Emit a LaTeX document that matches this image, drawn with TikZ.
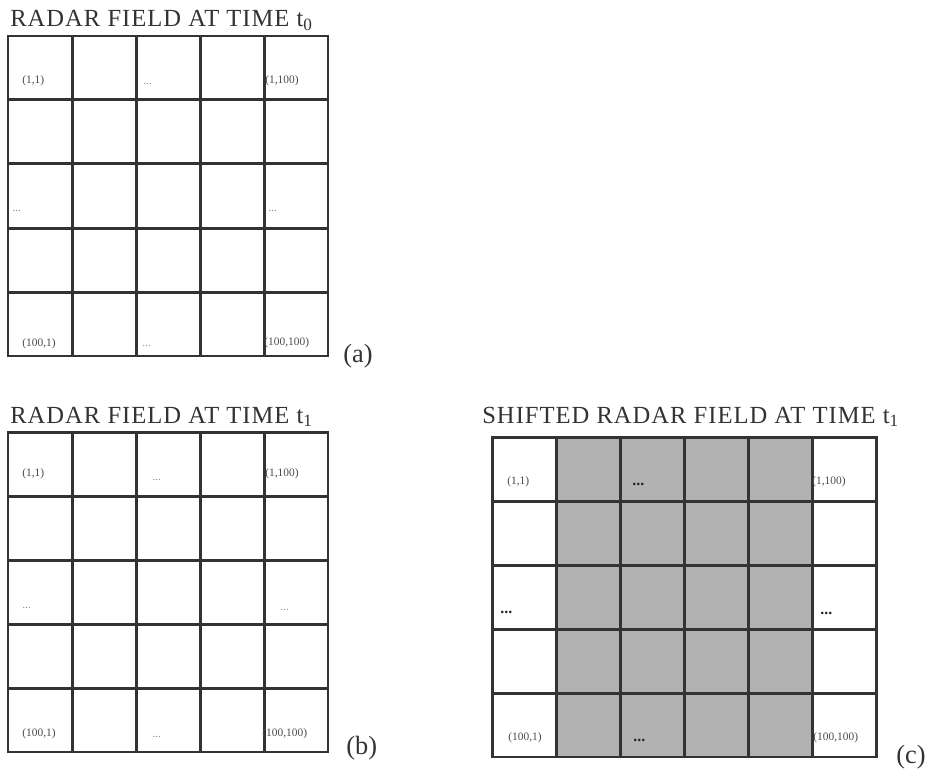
\documentclass[tikz,border=0pt]{standalone}
\usepackage{fontspec}
\setmainfont{Liberation Serif}
\newfontfamily\ttlfont[LetterSpace=4]{Liberation Serif}
\usetikzlibrary{positioning}
\definecolor{ink}{HTML}{333333}
\definecolor{cellgray}{HTML}{B2B2B2}

\begin{document}
\begin{tikzpicture}[x=0.02cm, y=-0.02cm,
  cell/.style={draw=ink, rectangle, line width=1.7pt, minimum size=1.28cm,
    inner sep=0pt, fill=white},
  shd/.style={cell, fill=cellgray},
  ttl/.style={font=\ttlfont\fontsize{14}{16}\selectfont, text=ink,
    anchor=base west, inner sep=0pt},
  idx/.style={font=\fontsize{6.5}{7}\selectfont, text=black!70,
    anchor=base west, inner sep=0pt},
  dts/.style={idx, text=black!45},
  bdts/.style={idx, text=black!85, font=\bfseries\fontsize{9}{10}\selectfont},
  tag/.style={font=\fontsize{15}{17}\selectfont, text=ink, anchor=base west,
    inner sep=0pt},
]
\useasboundingbox (0,0) rectangle (932,770);

% (a) radar field at t0
\begin{scope}[shift={(8,36)}]
\foreach \r in {1,...,5}
  \foreach \c in {1,...,5}
    \node[cell] (a\r\c) at (64*\c-32,64*\r-32) {};
\node[ttl] (ta) at (2,-9) {RADAR FIELD AT TIME t\textsubscript{0}};
\node[idx] (a11l) at (14,48) {(1,1)};
\node[dts] (a13l) at (135,49) {...};
\node[idx] (a15l) at (257,48) {(1,100)};
\node[dts] (a31l) at (4,176) {...};
\node[dts] (a35l) at (260,176) {...};
\node[idx] (a51l) at (14,310) {(100,1)};
\node[dts] (a53l) at (134,310) {...};
\node[idx] (a55l) at (256,309) {(100,100)};
\end{scope}
\node[tag] (tga) at (343,362) {(a)};

% (b) radar field at t1
\begin{scope}[shift={(8,432)}]
\foreach \r in {1,...,5}
  \foreach \c in {1,...,5}
    \node[cell] (b\r\c) at (64*\c-32,64*\r-32) {};
\node[ttl] (tb) at (2,-9) {RADAR FIELD AT TIME t\textsubscript{1}};
\node[idx] (b11l) at (14,44) {(1,1)};
\node[dts] (b13l) at (144,48) {...};
\node[idx] (b15l) at (257,44) {(1,100)};
\node[dts] (b31l) at (14,176) {...};
\node[dts] (b35l) at (272,178) {...};
\node[idx] (b51l) at (14,304) {(100,1)};
\node[dts] (b53l) at (144,305) {...};
\node[idx] (b55l) at (254,304) {(100,100)};
\end{scope}
\node[tag] (tgb) at (346,754) {(b)};

% (c) shifted field, columns 2-5 shaded
\begin{scope}[shift={(492,437)}]
\foreach \r in {1,...,5}
  \foreach \c in {1,...,6} {
    \ifnum\c=1 \def\sty{cell}\else\ifnum\c=6 \def\sty{cell}\else\def\sty{shd}\fi\fi
    \node[\sty] (c\r\c) at (64*\c-32,64*\r-32) {};
  }
\node[ttl] (tc) at (-10,-14) {SHIFTED RADAR FIELD AT TIME t\textsubscript{1}};
\node[idx] (c11l) at (15,47) {(1,1)};
\node[bdts] (c13l) at (140,48) {...};
\node[idx] (c16l) at (320,47) {(1,100)};
\node[bdts] (c31l) at (8,176) {...};
\node[bdts] (c36l) at (328,177) {...};
\node[idx] (c51l) at (16,303) {(100,1)};
\node[bdts] (c53l) at (141,304) {...};
\node[idx] (c56l) at (321,303) {(100,100)};
\end{scope}
\node[tag] (tgc) at (896,763) {(c)};
\end{tikzpicture}
\end{document}
